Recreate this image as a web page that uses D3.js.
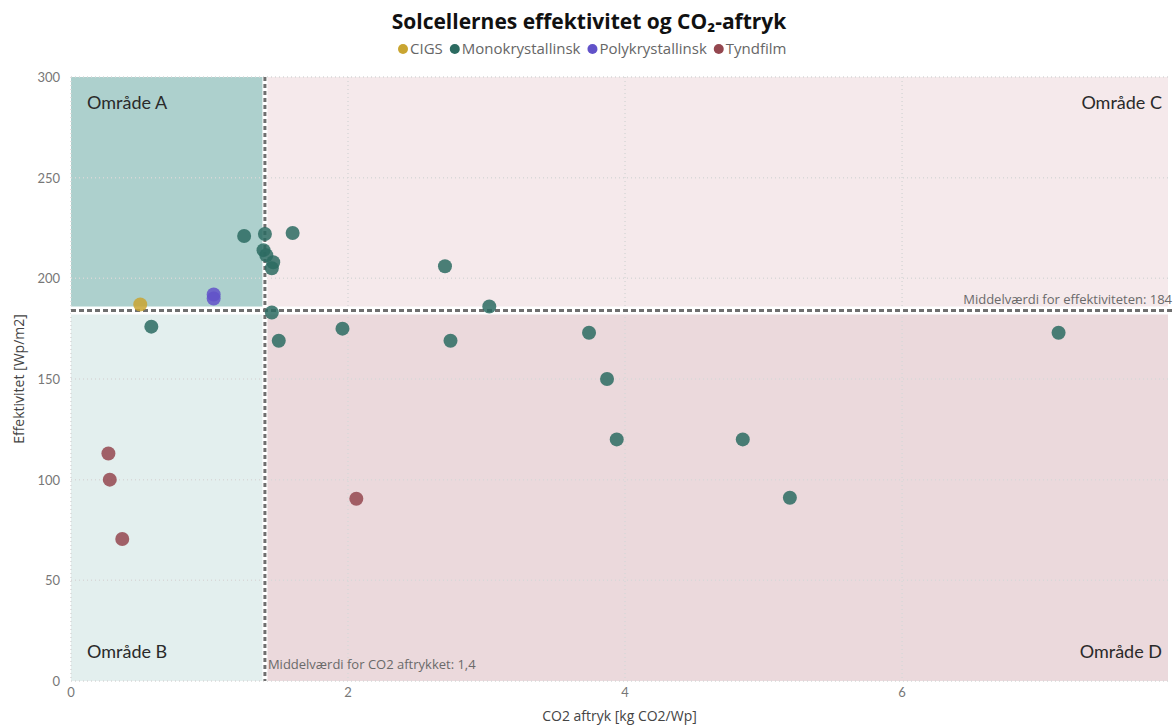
<!DOCTYPE html>
<html>
<head>
<meta charset="utf-8">
<script src="https://cdn.jsdelivr.net/npm/d3@7"></script>
<style>
  body { margin: 0; background: #fff; }
  text { font-family: Lato, "Open Sans", sans-serif; }
  .os { font-family: "Open Sans", sans-serif; }
</style>
</head>
<body>
<div id="chart"></div>
<script>
var categories = ["CIGS", "Monokrystallinsk", "Polykrystallinsk", "Tyndfilm"];
var colors = ["#c9a531", "#2c6b61", "#6152c9", "#94474f"];

// [co2, effektivitet]
var cigs = [[0.50, 187]];
var mono = [
  [0.58, 176], [1.25, 221], [1.40, 222], [1.60, 222.5], [1.39, 214],
  [1.41, 211.5], [1.46, 208], [1.45, 205], [1.45, 183], [1.50, 169],
  [1.96, 175], [2.70, 206], [2.74, 169], [3.02, 186], [3.74, 173],
  [3.87, 150], [3.94, 120], [4.85, 120], [5.19, 91], [7.13, 173]
];
var poly = [[1.03, 192], [1.03, 190]];
var tynd = [[0.27, 113], [0.28, 100], [0.37, 70.5], [2.06, 90.5]];

var meanX = 1.4, meanY = 184;
var xTicks = [0, 2, 4, 6];
var yTicks = [0, 50, 100, 150, 200, 250, 300];

var width = 1175, height = 726;
var svg = d3.select("#chart").append("svg")
  .attr("width", width).attr("height", height);

var x = d3.scaleLinear().domain([0, 7.92]).range([71, 1168]);
var y = d3.scaleLinear().domain([0, 300]).range([681, 77]);

// quadrants
var quads = [
  {x0: 0, x1: meanX, y0: meanY, y1: 300, fill: "#add0cd"},
  {x0: 0, x1: meanX, y0: 0, y1: meanY, fill: "#e3efee"},
  {x0: meanX, x1: 7.92, y0: meanY, y1: 300, fill: "#f5e9eb"},
  {x0: meanX, x1: 7.92, y0: 0, y1: meanY, fill: "#ebd9dc"}
];
svg.selectAll("rect.quad").data(quads).enter().append("rect")
  .attr("class", "quad")
  .attr("x", d => x(d.x0)).attr("y", d => y(d.y1))
  .attr("width", d => x(d.x1) - x(d.x0))
  .attr("height", d => y(d.y0) - y(d.y1))
  .attr("fill", d => d.fill);

// grid
svg.selectAll("line.gx").data(xTicks).enter().append("line")
  .attr("x1", d => x(d)).attr("x2", d => x(d))
  .attr("y1", y(300)).attr("y2", y(0))
  .attr("stroke", "#d8d8d8").attr("stroke-dasharray", "1,3").attr("stroke-width", 1.5);
svg.selectAll("line.gy").data(yTicks).enter().append("line")
  .attr("x1", x(0)).attr("x2", x(7.92))
  .attr("y1", d => y(d)).attr("y2", d => y(d))
  .attr("stroke", "#d8d8d8").attr("stroke-dasharray", "1,3").attr("stroke-width", 1.5);

// axes labels
svg.selectAll("text.yt").data(yTicks).enter().append("text")
  .attr("x", 60).attr("y", d => y(d) + 5)
  .attr("text-anchor", "end").attr("font-size", 13).attr("fill", "#777")
  .text(d => d);
svg.selectAll("text.xt").data(xTicks).enter().append("text")
  .attr("x", d => x(d)).attr("y", 697)
  .attr("text-anchor", "middle").attr("font-size", 13).attr("fill", "#777")
  .text(d => d);

svg.append("text").attr("class", "os")
  .attr("x", (x(0) + x(7.92)) / 2).attr("y", 721)
  .attr("text-anchor", "middle").attr("font-size", 14).attr("fill", "#444")
  .text("CO2 aftryk [kg CO2/Wp]");
svg.append("text").attr("class", "os")
  .attr("transform", "translate(24," + (y(150)) + ") rotate(-90)")
  .attr("text-anchor", "middle").attr("font-size", 14).attr("fill", "#444")
  .text("Effektivitet [Wp/m2]");

// mean lines
svg.append("line")
  .attr("x1", x(0)).attr("x2", x(7.92) + 6)
  .attr("y1", y(meanY)).attr("y2", y(meanY))
  .attr("stroke", "#fff").attr("stroke-width", 8);
svg.append("line")
  .attr("x1", x(meanX)).attr("x2", x(meanX))
  .attr("y1", y(300)).attr("y2", y(0))
  .attr("stroke", "#fff").attr("stroke-width", 5);
svg.append("line")
  .attr("x1", x(0)).attr("x2", x(7.92) + 6)
  .attr("y1", y(meanY)).attr("y2", y(meanY))
  .attr("stroke", "#6f6f6f").attr("stroke-width", 3).attr("stroke-dasharray", "5,3");
svg.append("line")
  .attr("x1", x(meanX)).attr("x2", x(meanX))
  .attr("y1", y(300)).attr("y2", y(0))
  .attr("stroke", "#6f6f6f").attr("stroke-width", 3).attr("stroke-dasharray", "4,3");

svg.append("text").attr("class", "os")
  .attr("x", 1172).attr("y", y(meanY) - 7)
  .attr("text-anchor", "end").attr("font-size", 13).attr("fill", "#6a6a6a")
  .text("Middelværdi for effektiviteten: " + meanY);
svg.append("text").attr("class", "os")
  .attr("x", x(meanX) + 3).attr("y", 669)
  .attr("font-size", 13).attr("fill", "#6a6a6a")
  .text("Middelværdi for CO2 aftrykket: " + String(meanX).replace(".", ","));

// area labels
var areas = [
  {t: "Område A", x: 87, y: 109, a: "start"},
  {t: "Område B", x: 87, y: 658, a: "start"},
  {t: "Område C", x: 1162, y: 109, a: "end"},
  {t: "Område D", x: 1162, y: 658, a: "end"}
];
svg.selectAll("text.area").data(areas).enter().append("text")
  .attr("x", d => d.x).attr("y", d => d.y)
  .attr("text-anchor", d => d.a).attr("font-size", 18).attr("fill", "#2a2a2a")
  .text(d => d.t);

// points
var series = [cigs, mono, poly, tynd];
series.forEach(function (s, i) {
  svg.append("g").selectAll("circle").data(s).enter().append("circle")
    .attr("cx", d => x(d[0])).attr("cy", d => y(d[1]))
    .attr("r", 7)
    .attr("fill", colors[i])
    .attr("fill-opacity", 0.85);
});

// title
svg.append("text")
  .attr("x", 589).attr("y", 29)
  .attr("text-anchor", "middle").attr("font-size", 21).attr("font-weight", "bold")
  .attr("fill", "#111").style("font-family", "'Open Sans', sans-serif")
  .text("Solcellernes effektivitet og CO₂-aftryk");

// legend
var legend = svg.append("g");
var lx = 398;
categories.forEach(function (c, i) {
  legend.append("circle").attr("cx", lx + 5).attr("cy", 49).attr("r", 5).attr("fill", colors[i]);
  var t = legend.append("text").attr("class", "os").attr("x", lx + 12).attr("y", 54)
    .attr("font-size", 15).attr("fill", "#666").text(c);
  lx += 12 + t.node().getComputedTextLength() + 7;
});
</script>
</body>
</html>
